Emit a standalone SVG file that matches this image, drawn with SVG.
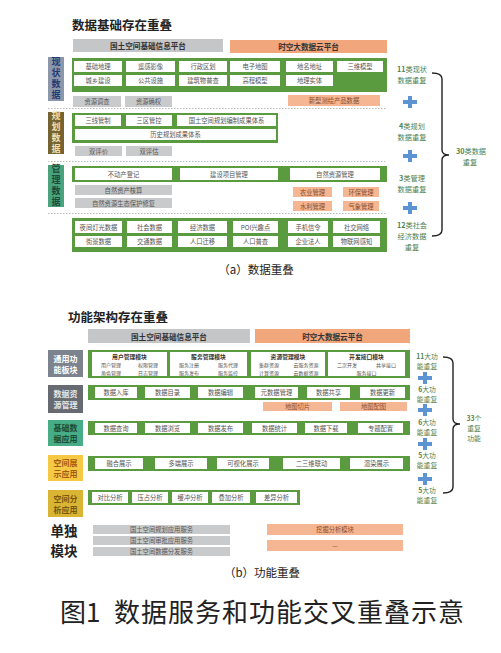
<svg xmlns="http://www.w3.org/2000/svg" xmlns:xlink="http://www.w3.org/1999/xlink" width="501" height="653" viewBox="0 0 501 653">
<style>
text{font-family:"Noto Sans CJK SC","Liberation Sans",sans-serif}
.g{fill:#5a9b3f}
.w{fill:#fff}
.gr{fill:#c9cacc}
.or{fill:#f5b793}
.t{font-size:6.3px;fill:#555;text-anchor:middle;dominant-baseline:central}
.ti{font-size:5px;fill:#555;text-anchor:middle;dominant-baseline:central}
.tm{font-size:5.8px;font-weight:bold;fill:#333;text-anchor:middle;dominant-baseline:central}
.to{font-size:6.3px;fill:#8a4a2a;text-anchor:middle;dominant-baseline:central}
.hd{font-size:7.6px;font-weight:bold;fill:#333;text-anchor:middle;dominant-baseline:central}
.ttl{font-size:12.5px;font-weight:bold;fill:#222}
.lbv{font-size:9px;font-weight:bold;text-anchor:middle;writing-mode:vertical-rl;letter-spacing:1.8px}
.lb2{font-size:8px;font-weight:bold;text-anchor:middle;dominant-baseline:central}
.rt{font-size:7.2px;fill:#4f7f4f;text-anchor:middle}
.rb{font-size:6.8px;fill:#4f7f4f;text-anchor:middle}
.dot{stroke:#bbb;stroke-width:1;stroke-dasharray:1.5 1.5;fill:none}
.br{stroke:#222;stroke-width:1.4;fill:none}
.cap{font-size:11.5px;fill:#222;text-anchor:middle}
</style>
<defs>
<path id="plus" d="M-2,-6h4v4h5v4h-5v4h-4v-4h-5v-4h5z" fill="#5b93d3"/>
</defs>

<!-- ===== (a) ===== -->
<text class="ttl" x="72" y="30">数据基础存在重叠</text>
<g id="a-hdr-gray"><rect x="73" y="39" width="150" height="13" fill="#c5c6c8"/><text class="hd" x="148" y="45.5">国土空间基础信息平台</text></g>
<g id="a-hdr-orange"><rect x="230" y="40" width="157" height="13" fill="#f2a67c"/><text class="hd" x="308.5" y="46.5">时空大数据云平台</text></g>

<g id="a-label-xz"><rect x="48" y="57" width="16" height="44" fill="#8d97ab"/>
<text class="lbv" fill="#223a72" x="56" y="79">现状数据</text></g>

<g id="a-frame1">
<rect class="g" x="72" y="58" width="315" height="34"/>
<rect class="w" x="74" y="61" width="48" height="11"/><text class="t" x="98" y="66.5">基础地理</text>
<rect class="w" x="126" y="61" width="49" height="11"/><text class="t" x="150.5" y="66.5">遥感影像</text>
<rect class="w" x="179" y="61" width="48" height="11"/><text class="t" x="203" y="66.5">行政区划</text>
<rect class="w" x="230" y="61" width="50" height="11"/><text class="t" x="255" y="66.5">电子地图</text>
<rect class="w" x="286" y="61" width="47" height="11"/><text class="t" x="309.5" y="66.5">地名地址</text>
<rect class="w" x="337" y="61" width="46" height="11"/><text class="t" x="360" y="66.5">三维模型</text>
<rect class="w" x="74" y="75" width="48" height="11"/><text class="t" x="98" y="80.5">城乡建设</text>
<rect class="w" x="126" y="75" width="49" height="11"/><text class="t" x="150.5" y="80.5">公共设施</text>
<rect class="w" x="179" y="75" width="48" height="11"/><text class="t" x="203" y="80.5">建筑物普查</text>
<rect class="w" x="230" y="75" width="50" height="11"/><text class="t" x="255" y="80.5">高程模型</text>
<rect class="w" x="286" y="75" width="47" height="11"/><text class="t" x="309.5" y="80.5">地理实体</text>
</g>
<g id="a-extra1">
<rect class="gr" x="73" y="96" width="48" height="11"/><text class="t" x="97" y="101.5">资源调查</text>
<rect class="gr" x="125" y="96" width="47" height="11"/><text class="t" x="148.5" y="101.5">资源确权</text>
<rect class="or" x="288" y="95" width="92" height="11"/><text class="to" x="334" y="100.5">新型测绘产品数据</text>
</g>
<line class="dot" x1="48" y1="108.5" x2="387" y2="108.5"/>

<g id="a-label-gh"><rect x="48" y="112" width="16" height="42" fill="#76632f"/>
<text class="lbv" fill="#efe0b0" x="56" y="133">规划数据</text></g>
<g id="a-frame2">
<rect class="g" x="72" y="113" width="206" height="30"/>
<rect class="w" x="75" y="115" width="46" height="11"/><text class="t" x="98" y="120.5">三线管制</text>
<rect class="w" x="126" y="115" width="46" height="11"/><text class="t" x="149" y="120.5">三区管控</text>
<rect class="w" x="177" y="115" width="99" height="11"/><text class="t" x="226.5" y="120.5">国土空间规划编制成果体系</text>
<rect class="w" x="75" y="129" width="201" height="11"/><text class="t" x="175.5" y="134.5">历史规划成果体系</text>
</g>
<g id="a-extra2">
<rect class="gr" x="75" y="146" width="47" height="10"/><text class="t" x="98.5" y="151">双评价</text>
<rect class="gr" x="126" y="146" width="46" height="10"/><text class="t" x="149" y="151">双评估</text>
</g>
<line class="dot" x1="48" y1="161.5" x2="387" y2="161.5"/>

<g id="a-label-gl"><rect x="48" y="165" width="16" height="42" fill="#4aa37c"/>
<text class="lbv" fill="#1b4a36" x="56" y="186">管理数据</text></g>
<g id="a-frame3">
<rect class="g" x="72" y="166" width="315" height="16"/>
<rect class="w" x="75" y="168" width="97" height="12"/><text class="t" x="123.5" y="174">不动产登记</text>
<rect class="w" x="180" y="168" width="98" height="12"/><text class="t" x="229" y="174">建设项目管理</text>
<rect class="w" x="290" y="168" width="90" height="12"/><text class="t" x="335" y="174">自然资源管理</text>
</g>
<g id="a-extra3">
<rect class="gr" x="75" y="185" width="97" height="10"/><text class="t" x="123.5" y="190">自然资产核算</text>
<rect class="gr" x="75" y="198" width="97" height="10"/><text class="t" x="123.5" y="203">自然资源生态保护修复</text>
<rect class="or" x="293" y="187" width="39" height="10"/><text class="to" x="312.5" y="192">农业管理</text>
<rect class="or" x="343" y="187" width="36" height="10"/><text class="to" x="361" y="192">环保管理</text>
<rect class="or" x="293" y="201" width="39" height="10"/><text class="to" x="312.5" y="206">水利管理</text>
<rect class="or" x="343" y="201" width="36" height="10"/><text class="to" x="361" y="206">气象管理</text>
</g>
<line class="dot" x1="48" y1="213.5" x2="387" y2="213.5"/>

<g id="a-frame4">
<rect class="g" x="72" y="218" width="315" height="34"/>
<rect class="w" x="75" y="221" width="47" height="12"/><text class="t" x="98.5" y="227">夜间灯光数据</text>
<rect class="w" x="127" y="221" width="45" height="12"/><text class="t" x="149.5" y="227">社会数据</text>
<rect class="w" x="178" y="221" width="49" height="12"/><text class="t" x="202.5" y="227">经济数据</text>
<rect class="w" x="233" y="221" width="45" height="12"/><text class="t" x="255.5" y="227">POI兴趣点</text>
<rect class="w" x="288" y="221" width="40" height="12"/><text class="t" x="308" y="227">手机信令</text>
<rect class="w" x="333" y="221" width="47" height="12"/><text class="t" x="356.5" y="227">社交网络</text>
<rect class="w" x="75" y="236" width="47" height="11"/><text class="t" x="98.5" y="241.5">街景数据</text>
<rect class="w" x="127" y="236" width="45" height="11"/><text class="t" x="149.5" y="241.5">交通数据</text>
<rect class="w" x="178" y="236" width="49" height="11"/><text class="t" x="202.5" y="241.5">人口迁移</text>
<rect class="w" x="233" y="236" width="45" height="11"/><text class="t" x="255.5" y="241.5">人口普查</text>
<rect class="w" x="288" y="236" width="40" height="11"/><text class="t" x="308" y="241.5">企业法人</text>
<rect class="w" x="333" y="236" width="47" height="11"/><text class="t" x="356.5" y="241.5">物联网感知</text>
</g>

<g id="a-right">
<text class="rt" x="412" y="72"><tspan font-weight="bold">11</tspan>类现状</text><text class="rt" x="412" y="83">数据重复</text>
<use xlink:href="#plus" x="410" y="102"/>
<text class="rt" x="412" y="129"><tspan font-weight="bold">4</tspan>类规划</text><text class="rt" x="412" y="140">数据重复</text>
<use xlink:href="#plus" x="410" y="156"/>
<text class="rt" x="412" y="181"><tspan font-weight="bold">3</tspan>类管理</text><text class="rt" x="412" y="192">数据重复</text>
<use xlink:href="#plus" x="410" y="208"/>
<text class="rt" x="412" y="228"><tspan font-weight="bold">12</tspan>类社会</text><text class="rt" x="412" y="239">经济数据</text><text class="rt" x="412" y="250">重复</text>
<text class="rt" x="471" y="154"><tspan font-weight="bold">30</tspan>类数据</text><text class="rt" x="470" y="165">重复</text>
</g>
<g id="connectors">
<path class="br" d="M432,73 Q442,73 442,79 L442,150 Q442,155 449,155 Q442,155 442,160 L442,230 Q442,236 432,236"/>
<path class="br" d="M443,357 Q453,357 453,363 L453,419 Q453,424 460,424 Q453,424 453,429 L453,487 Q453,493 443,493"/>
</g>
<text class="cap" x="256" y="274">（a）数据重叠</text>

<!-- ===== (b) ===== -->
<text class="ttl" x="68" y="322">功能架构存在重叠</text>
<g id="b-hdr-gray"><rect x="88" y="329" width="162" height="14" fill="#c5c6c8"/><text class="hd" x="169" y="336" font-weight="normal">国土空间基础信息平台</text></g>
<g id="b-hdr-orange"><rect x="255" y="329" width="155" height="14" fill="#f2a67c"/><text class="hd" x="332.5" y="336" font-weight="normal">时空大数据云平台</text></g>

<g id="b-label-ty"><rect x="48" y="350" width="35" height="27" fill="#7d838e"/><text class="lb2" fill="#fff" x="65.5" y="358">通用功</text><text class="lb2" fill="#fff" x="65.5" y="369">能板块</text></g>
<g id="b-frame1">
<rect class="g" x="88" y="350" width="322" height="28"/>
<rect class="w" x="92" y="352" width="75" height="24"/>
<text class="tm" x="129.5" y="356.3">用户管理模块</text>
<text class="ti" x="111" y="364.5">用户管理</text><text class="ti" x="148" y="364.5">权限管理</text>
<text class="ti" x="111" y="372">角色管理</text><text class="ti" x="148" y="372">日志管理</text>
<rect class="w" x="170" y="352" width="77" height="24"/>
<text class="tm" x="208.5" y="356.3">服务管理模块</text>
<text class="ti" x="189" y="364.5">服务注册</text><text class="ti" x="228" y="364.5">服务代理</text>
<text class="ti" x="189" y="372">服务发布</text><text class="ti" x="228" y="372">服务监控</text>
<rect class="w" x="251" y="352" width="74" height="24"/>
<text class="tm" x="288" y="356.3">资源管理模块</text>
<text class="ti" x="269" y="364.5">集群资源</text><text class="ti" x="306" y="364.5">云服务资源</text>
<text class="ti" x="269" y="372">计算资源</text><text class="ti" x="306" y="372">云数据资源</text>
<rect class="w" x="328" y="352" width="77" height="24"/>
<text class="tm" x="366.5" y="356.3">开发接口模块</text>
<text class="ti" x="347" y="364.5">二次开发</text><text class="ti" x="386" y="364.5">共享接口</text>
<text class="ti" x="366.5" y="372">服务接口</text>
</g>

<g id="b-label-sj"><rect x="48" y="385" width="35" height="28" fill="#676b71"/><text class="lb2" fill="#e6e6e6" x="65.5" y="393.5">数据资</text><text class="lb2" fill="#e6e6e6" x="65.5" y="404.5">源管理</text></g>
<g id="b-frame2">
<rect class="g" x="88" y="385" width="322" height="15"/>
<rect class="w" x="95" y="387" width="42" height="11"/><text class="t" x="116" y="392.5">数据入库</text>
<rect class="w" x="145" y="387" width="45" height="11"/><text class="t" x="167.5" y="392.5">数据目录</text>
<rect class="w" x="198" y="387" width="45" height="11"/><text class="t" x="220.5" y="392.5">数据编辑</text>
<rect class="w" x="255" y="387" width="43" height="11"/><text class="t" x="276.5" y="392.5">元数据管理</text>
<rect class="w" x="307" y="387" width="43" height="11"/><text class="t" x="328.5" y="392.5">数据共享</text>
<rect class="w" x="360" y="387" width="45" height="11"/><text class="t" x="382.5" y="392.5">数据更新</text>
</g>
<g id="b-extra2">
<rect class="or" x="263" y="402" width="69" height="9"/><text class="to" x="297.5" y="406.5">地图切片</text>
<rect class="or" x="340" y="402" width="67" height="9"/><text class="to" x="373.5" y="406.5">地图配图</text>
</g>

<g id="b-label-jc"><rect x="48" y="420" width="35" height="26" fill="#46ad87"/><text class="lb2" fill="#1c4a35" x="65.5" y="427.5">基础数</text><text class="lb2" fill="#1c4a35" x="65.5" y="438.5">据应用</text></g>
<g id="b-frame3">
<rect class="g" x="88" y="421" width="322" height="14"/>
<rect class="w" x="95" y="423" width="42" height="10"/><text class="t" x="116" y="428">数据查询</text>
<rect class="w" x="145" y="423" width="45" height="10"/><text class="t" x="167.5" y="428">数据浏览</text>
<rect class="w" x="198" y="423" width="45" height="10"/><text class="t" x="220.5" y="428">数据发布</text>
<rect class="w" x="252" y="423" width="45" height="10"/><text class="t" x="274.5" y="428">数据统计</text>
<rect class="w" x="305" y="423" width="42" height="10"/><text class="t" x="326" y="428">数据下载</text>
<rect class="w" x="358" y="423" width="45" height="10"/><text class="t" x="380.5" y="428">专题配置</text>
</g>

<g id="b-label-zs"><rect x="48" y="455" width="35" height="26" fill="#f6c945"/><text class="lb2" fill="#a55a12" x="65.5" y="462.5">空间展</text><text class="lb2" fill="#a55a12" x="65.5" y="473.5">示应用</text></g>
<g id="b-frame4">
<rect class="g" x="88" y="456" width="322" height="15"/>
<rect class="w" x="95" y="458" width="48" height="11"/><text class="t" x="119" y="463.5">融合展示</text>
<rect class="w" x="155" y="458" width="52" height="11"/><text class="t" x="181" y="463.5">多端展示</text>
<rect class="w" x="217" y="458" width="52" height="11"/><text class="t" x="243" y="463.5">可视化展示</text>
<rect class="w" x="283" y="458" width="57" height="11"/><text class="t" x="311.5" y="463.5">二三维联动</text>
<rect class="w" x="350" y="458" width="53" height="11"/><text class="t" x="376.5" y="463.5">渲染展示</text>
</g>

<g id="b-label-fx"><rect x="48" y="490" width="35" height="27" fill="#d9b533"/><text class="lb2" fill="#7a5510" x="65.5" y="498">空间分</text><text class="lb2" fill="#7a5510" x="65.5" y="509">析应用</text></g>
<g id="b-frame5">
<rect class="g" x="88" y="490" width="212" height="15"/>
<rect class="w" x="92" y="492" width="36" height="11"/><text class="t" x="110" y="497.5">对比分析</text>
<rect class="w" x="132" y="492" width="36" height="11"/><text class="t" x="150" y="497.5">压占分析</text>
<rect class="w" x="172" y="492" width="36" height="11"/><text class="t" x="190" y="497.5">缓冲分析</text>
<rect class="w" x="212" y="492" width="38" height="11"/><text class="t" x="231" y="497.5">叠加分析</text>
<rect class="w" x="256" y="492" width="41" height="11"/><text class="t" x="276.5" y="497.5">差异分析</text>
</g>

<g id="b-single">
<text x="64" y="536" font-size="13.5" font-weight="bold" fill="#222" text-anchor="middle">单独</text>
<text x="64" y="556" font-size="13.5" font-weight="bold" fill="#222" text-anchor="middle">模块</text>
<rect class="gr" x="93" y="525" width="137" height="9"/><text class="t" x="161.5" y="529.5">国土空间规划应用服务</text>
<rect class="gr" x="93" y="536" width="137" height="9"/><text class="t" x="161.5" y="540.5">国土空间审批应用服务</text>
<rect class="gr" x="93" y="547" width="137" height="9"/><text class="t" x="161.5" y="551.5">国土空间数据分发服务</text>
<rect class="or" x="267" y="524" width="136" height="11"/><text class="to" x="335" y="529.5">挖掘分析模块</text>
<rect class="or" x="267" y="540" width="136" height="11"/><text class="to" x="335" y="545.5">—</text>
</g>

<g id="b-right">
<text class="rb" x="427" y="359"><tspan font-weight="bold">11</tspan>大功</text><text class="rb" x="427" y="369">能重复</text>
<use xlink:href="#plus" x="425" y="378"/>
<text class="rb" x="427" y="392"><tspan font-weight="bold">6</tspan>大功</text><text class="rb" x="427" y="402">能重复</text>
<use xlink:href="#plus" x="425" y="410"/>
<text class="rb" x="427" y="425"><tspan font-weight="bold">6</tspan>大功</text><text class="rb" x="427" y="435">能重复</text>
<use xlink:href="#plus" x="425" y="444"/>
<text class="rb" x="427" y="458"><tspan font-weight="bold">5</tspan>大功</text><text class="rb" x="427" y="468">能重复</text>
<use xlink:href="#plus" x="425" y="479"/>
<text class="rb" x="427" y="493"><tspan font-weight="bold">5</tspan>大功</text><text class="rb" x="427" y="503">能重复</text>
<text class="rb" x="474" y="421"><tspan font-weight="bold">33</tspan>个</text><text class="rb" x="474" y="431">重复</text><text class="rb" x="474" y="441">功能</text>
</g>
<text class="cap" x="262" y="577" font-size="11">（b）功能重叠</text>

<g id="figtitle">
<text x="60" y="622" font-size="26" fill="#222">图1</text>
<text x="114" y="622" font-size="26" fill="#222" letter-spacing="1">数据服务和功能交叉重叠示意</text>
</g>
</svg>
